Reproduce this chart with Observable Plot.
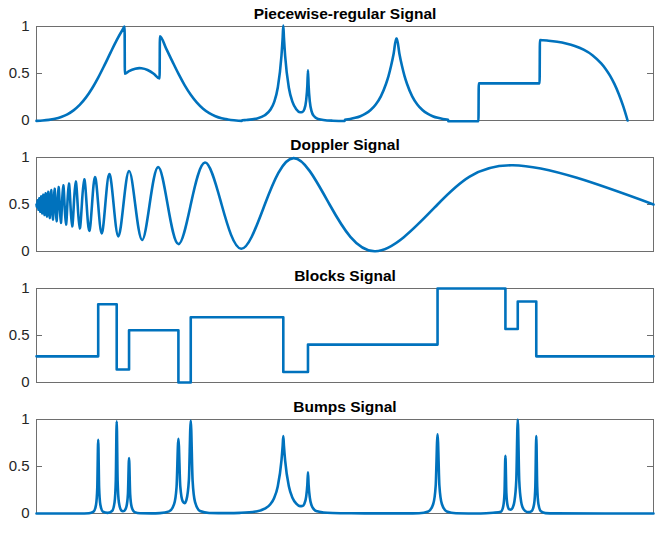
<!DOCTYPE html>
<html><head><meta charset="utf-8">
<script src="https://cdn.jsdelivr.net/npm/d3@7"></script>
<script src="https://cdn.jsdelivr.net/npm/@observablehq/plot@0.6"></script>
<style>
html,body{margin:0;padding:0;background:#fff;}
#chart svg{display:block;}
</style></head><body><div id="chart"></div>
<script>
const yTicks = [0, 0.5, 1];
const yTickLabels = ["0", "0.5", "1"];
const titles = ["Piecewise-regular Signal", "Doppler Signal", "Blocks Signal", "Bumps Signal"];

const pieceX = [
  0,0.01,0.02,0.03,0.04,0.05,0.06,0.07,0.08,0.09,0.10,0.11,0.12,0.13,0.14,0.1428,
  0.1432,0.15,0.16,0.1667,0.17,0.18,0.19,0.1995,
  0.2,0.21,0.22,0.23,0.24,0.25,0.26,0.27,0.28,0.29,0.30,0.31,0.32,0.333,
  0.3335,0.34,0.355,0.37,0.379,0.385,0.391,0.397,0.399,0.40,0.401,0.403,0.409,0.415,0.421,0.427,0.431,0.434,0.437,0.439,0.44,0.441,0.443,0.446,0.45,0.455,0.465,0.48,0.4995,
  0.5,0.5083,0.5166,0.5249,0.5332,0.5415,0.5498,0.5581,0.5664,0.5706,0.5747,0.5789,0.583,
  0.584,0.5881,0.5923,0.5964,0.6006,0.6089,0.6172,0.6255,0.6338,0.6421,0.6504,0.6587,0.667,
  0.6675,0.7163,
  0.7168,0.8154,
  0.8159,0.8297,0.8439,0.8582,0.8724,0.8867,0.901,0.9152,0.9224,0.9295,0.9366,0.9437,0.9509,0.958
];
const pieceY = [
  -0.004,0.000,0.007,0.019,0.038,0.066,0.108,0.166,0.243,0.340,0.456,0.586,0.722,0.855,0.971,1.0,
  0.497,0.526,0.551,0.557,0.555,0.537,0.498,0.447,
  0.896,0.767,0.631,0.498,0.377,0.274,0.190,0.125,0.078,0.046,0.024,0.011,0.002,-0.004,
  0.002,0.005,0.018,0.055,0.114,0.193,0.348,0.686,0.884,1.009,0.884,0.686,0.349,0.196,0.120,0.088,0.091,0.118,0.211,0.375,0.534,0.374,0.200,0.095,0.044,0.020,0.006,-0.002,-0.005,
  0.008,0.016,0.028,0.046,0.072,0.111,0.170,0.257,0.388,0.475,0.582,0.713,0.873,
  0.873,0.713,0.582,0.475,0.388,0.257,0.170,0.111,0.072,0.046,0.028,0.016,0.008,
  -0.008,-0.008,
  0.395,0.395,
  0.856,0.849,0.837,0.819,0.793,0.753,0.695,0.607,0.549,0.477,0.389,0.282,0.152,0.0
];

const dopplerX = [
  0,0.0006,0.00122,0.00185,0.0025,0.00316,0.00385,0.00455,0.00526,0.006,0.00676,0.00753,0.00833,0.00915,
  0.01,0.01087,0.01176,0.01269,0.01364,0.01462,0.01563,0.0167,0.01774,0.01885,
  0.02,0.0212,0.02241,0.0237,0.025,0.0264,0.02778,0.0292,0.03077,0.0324,0.034,0.0357,0.0375,0.0394,
  0.0413,0.0433,0.04545,0.0477,0.05,0.0524,0.055,0.0577,0.0605,0.0635,0.0667,0.07,0.0735,0.0773,
  0.08125,0.0855,0.09,0.0948,0.1,0.1056,0.1115,0.118,0.125,0.1326,0.1409,0.15,0.16,0.1711,
  0.1833,0.1971,0.2125,0.23,0.25,0.2731,0.3,0.3318,0.37,0.4167,0.475,0.549,0.65,0.772,1.0
];
const dopplerY = [
  0.5,0.4755,0.5,0.543,0.5,0.444,0.5,0.567,0.5,0.423,0.5,0.586,0.5,0.405,
  0.5,0.604,0.5,0.388,0.5,0.620,0.5,0.372,0.5,0.636,
  0.5,0.356,0.5,0.652,0.5,0.340,0.5,0.668,0.5,0.323,0.5,0.686,0.5,0.305,
  0.5,0.704,0.5,0.287,0.5,0.723,0.5,0.267,0.5,0.744,0.5,0.245,0.5,0.767,
  0.5,0.220,0.5,0.793,0.5,0.193,0.5,0.823,0.5,0.161,0.5,0.857,0.5,0.123,
  0.5,0.898,0.5,0.079,0.5,0.946,0.5,0.029,0.5,0.993,0.5,0.0025,0.5,0.917,0.5
];

const blocksX = [0, 0.1, 0.13, 0.15, 0.23, 0.25, 0.40, 0.44, 0.65, 0.76, 0.78, 0.81, 1];
const blocksY = [0.278, 0.833, 0.139, 0.556, 0, 0.694, 0.111, 0.403, 1, 0.569, 0.861, 0.278, 0.278];

const bumpsX = [
  0,0.07,0.085,0.0925,0.0965,0.0985,0.1,0.1015,0.1035,0.1075,0.115,0.1225,0.1265,0.1285,0.13,0.1315,0.1335,0.1375,0.14,0.1425,0.1458,0.1482,0.15,0.1518,0.1542,0.159,0.168,0.186,0.2,
  0.215,0.223,0.227,0.23,0.233,0.237,0.24,0.243,0.247,0.25,0.253,0.257,0.265,0.28,0.31,0.33,0.355,0.37,0.379,0.385,0.391,0.397,0.399,0.40,0.401,0.403,0.409,0.415,0.421,0.427,0.431,0.434,0.437,0.439,0.44,0.441,0.443,0.446,0.45,0.455,0.465,0.48,0.51,0.55,0.6,
  0.62,0.635,0.643,0.647,0.65,0.653,0.657,0.665,0.68,0.72,
  0.74,0.7525,0.7565,0.7585,0.76,0.7615,0.7635,0.766,0.769,0.772,0.7744,0.7776,0.78,0.7824,0.7856,0.788,0.792,0.797,0.8025,0.8065,0.8085,0.81,0.8115,0.8135,0.8175,0.825,0.84,1
];
const bumpsY = [
  0,0,0.003,0.020,0.094,0.274,0.784,0.274,0.094,0.021,0.007,0.027,0.119,0.345,0.980,0.345,0.120,0.032,0.024,0.030,0.074,0.208,0.589,0.206,0.071,0.015,0.002,0.001,0.004,
  0.023,0.099,0.282,0.795,0.292,0.129,0.110,0.145,0.357,0.989,0.350,0.121,0.027,0.006,0.004,0.007,0.021,0.051,0.099,0.163,0.288,0.562,0.722,0.823,0.722,0.562,0.289,0.165,0.104,0.078,0.080,0.102,0.177,0.310,0.439,0.309,0.168,0.083,0.042,0.023,0.011,0.005,0.002,0.001,0.001,
  0.003,0.022,0.101,0.295,0.842,0.295,0.101,0.022,0.003,0,
  0.008,0.018,0.077,0.218,0.614,0.221,0.084,0.044,0.041,0.067,0.122,0.352,1.0,0.351,0.121,0.064,0.027,0.015,0.026,0.101,0.29,0.824,0.29,0.10,0.023,0.004,0.001,0
];

const series = [
  {title: titles[0], x: pieceX, y: pieceY, curve: "monotone-x"},
  {title: titles[1], x: dopplerX, y: dopplerY, curve: "natural"},
  {title: titles[2], x: blocksX, y: blocksY, curve: "step-after"},
  {title: titles[3], x: bumpsX, y: bumpsY, curve: "monotone-x"}
];

const W = 665, H = 131, mt = 26, mb = 11, ml = 36, mr = 12;
const fw = W - ml - mr;
const axisColor = "#6e6e6e";

function panel(s) {
  const data = s.x.map((v, i) => ({x: v, y: s.y[i]}));
  return Plot.plot({
    width: W, height: H,
    marginTop: mt, marginBottom: mb, marginLeft: ml, marginRight: mr,
    style: {fontFamily: "'Liberation Sans', Arial, Helvetica, sans-serif", fontSize: "15px", color: "#262626", background: "white"},
    x: {domain: [0, 1], axis: null},
    y: {domain: [0, 1], axis: null},
    marks: [
      Plot.axisY(yTicks, {label: null, tickSize: 0, tickPadding: 7, fontSize: 15, tickFormat: d => yTickLabels[yTicks.indexOf(d)], fill: "#262626"}),
      Plot.tickY(yTicks, {y: d => d, stroke: axisColor, insetRight: fw - 6}),
      Plot.tickY(yTicks, {y: d => d, stroke: axisColor, insetLeft: fw - 6}),
      Plot.frame({stroke: axisColor}),
      Plot.line(data, {x: "x", y: "y", curve: s.curve, stroke: "#0072BD", strokeWidth: 2.6, strokeLinejoin: "round"}),
      Plot.text([s.title], {text: d => d, frameAnchor: "top", lineAnchor: "middle", dy: -12, fontWeight: "bold", fontSize: 15.5, fill: "#000"})
    ]
  });
}

const root = document.getElementById("chart");
for (const s of series) root.appendChild(panel(s));
</script>
</body></html>
